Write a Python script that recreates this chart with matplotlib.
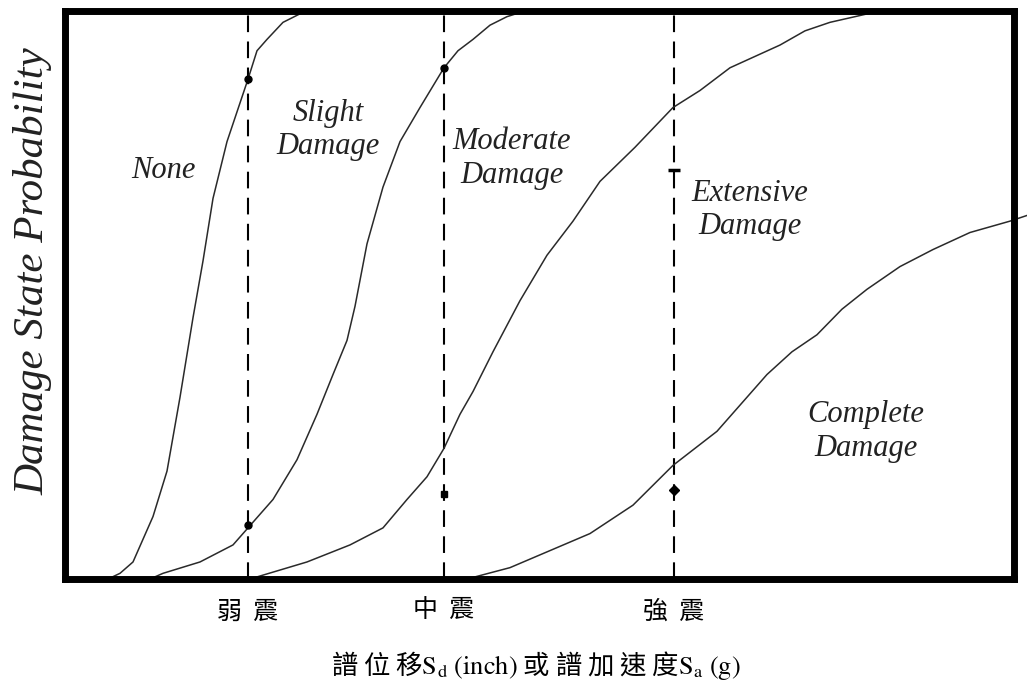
import matplotlib
matplotlib.use("Agg")
import matplotlib.pyplot as plt

plt.rcParams['mathtext.fontset'] = 'stix'

# spectral displacement (arbitrary units) vs damage-state probability
none_x = [0.30, 0.43, 0.55, 0.68, 0.78, 0.88, 0.95, 1.02, 1.15, 1.28, 1.38, 1.48, 1.62, 1.83, 1.92, 2.02, 2.18, 2.35, 2.50]
none_p = [0.00, 0.00, 0.01, 0.03, 0.07, 0.11, 0.15, 0.19, 0.32, 0.46, 0.56, 0.67, 0.77, 0.88, 0.93, 0.95, 0.98, 0.995, 1.00]

slight_x = [0.85, 0.98, 1.35, 1.68, 1.83, 2.08, 2.32, 2.52, 2.68, 2.82, 2.90, 3.02, 3.18, 3.35, 3.55, 3.79, 3.93, 4.08, 4.25, 4.42, 4.60]
slight_p = [0.00, 0.01, 0.03, 0.06, 0.09, 0.14, 0.21, 0.29, 0.36, 0.42, 0.48, 0.59, 0.69, 0.77, 0.83, 0.90, 0.93, 0.95, 0.975, 0.99, 1.00]

moderate_x = [1.75, 1.85, 2.42, 2.85, 3.18, 3.42, 3.62, 3.79, 3.95, 4.08, 4.28, 4.55, 4.82, 5.08, 5.35, 5.70,
              6.08, 6.35, 6.65, 6.90, 7.15, 7.40, 7.65, 7.90, 8.15]
moderate_p = [0.00, 0.00, 0.03, 0.06, 0.09, 0.14, 0.18, 0.23, 0.29, 0.33, 0.40, 0.49, 0.57, 0.63, 0.70, 0.76,
              0.83, 0.86, 0.90, 0.92, 0.94, 0.965, 0.98, 0.99, 1.00]

extensive_x = [3.80, 4.02, 4.45, 4.85, 5.25, 5.68, 6.08, 6.52, 7.02, 7.27, 7.52, 7.77, 8.02, 8.35, 8.68, 9.05, 9.45, 9.62]
extensive_p = [0.00, 0.00, 0.02, 0.05, 0.08, 0.13, 0.20, 0.26, 0.36, 0.40, 0.43, 0.475, 0.51, 0.55, 0.58, 0.61, 0.63, 0.64]

levels = ['弱  震', '中  震', '強  震']
level_x = [1.83, 3.79, 6.09]

# marked points on the dashed lines
dot_x = [1.83, 1.83, 3.79]
dot_p = [0.88, 0.095, 0.90]
square_x, square_p = [3.79], [0.15]
dash_x, dash_p = [6.09], [0.72]
diamond_x, diamond_p = [6.09], [0.157]

states = ['None', 'Slight\nDamage', 'Moderate\nDamage', 'Extensive\nDamage', 'Complete\nDamage']
state_x = [0.98, 2.63, 4.47, 6.85, 8.01]
state_p = [0.72, 0.79, 0.74, 0.65, 0.26]

fig = plt.figure(figsize=(10.27, 6.95), dpi=100)
ax = fig.add_axes([0.0633, 0.1669, 0.9240, 0.8173])

curve_style = dict(color='#2a2a2a', linewidth=1.1, solid_joinstyle='round')
ax.plot(none_x, none_p, **curve_style)
ax.plot(slight_x, slight_p, **curve_style)
ax.plot(moderate_x, moderate_p, **curve_style)
ax.plot(extensive_x, extensive_p, clip_on=False, **curve_style)

for lx in level_x:
    ax.axvline(lx, color='black', linewidth=1.5, linestyle=(0, (8, 4.5)), zorder=1)

ax.plot(dot_x, dot_p, 'o', color='black', markersize=5)
ax.plot(square_x, square_p, 's', color='black', markersize=5)
ax.plot(dash_x, dash_p, '_', color='black', markersize=8, markeredgewidth=2.5)
ax.plot(diamond_x, diamond_p, 'D', color='black', markersize=5)

for s, sx, sp in zip(states, state_x, state_p):
    ax.text(sx, sp, s, ha='center', va='center', fontsize=22, style='italic',
            family='Liberation Serif', color='#222222', linespacing=1.2)

ax.set_xlim(0, 9.49)
ax.set_ylim(0, 1)
ax.set_xticks(level_x)
ax.set_xticklabels(levels, family='Noto Sans CJK TC', fontsize=18)
ax.tick_params(axis='x', length=0, pad=14)
ax.set_yticks([])
for sp in ax.spines.values():
    sp.set_linewidth(5)

fig.text(0.032, 0.61, 'Damage State Probability', rotation=90, ha='center', va='center',
         fontsize=31, style='italic', family='Liberation Serif', color='#222222')
fig.text(0.522, 0.043, r'譜 位 移$\mathrm{S_d\ (inch)}$ 或 譜 加 速 度$\mathrm{S_a\ (g)}$',
         ha='center', va='center', fontsize=19, family='Noto Sans CJK TC')

fig.savefig('out.png', dpi=100)
